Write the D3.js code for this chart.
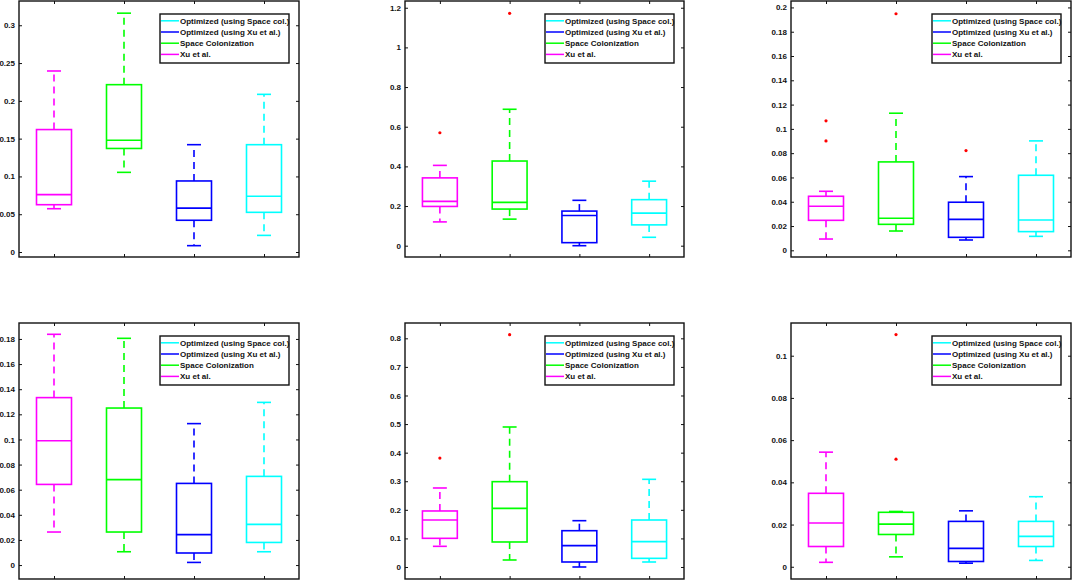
<!DOCTYPE html>
<html>
<head>
<meta charset="utf-8">
<script src="https://cdn.jsdelivr.net/npm/d3@7"></script>
<style>
  body { margin: 0; background: #fff; }
  svg { display: block; }
  .tick text { font-family: "Liberation Sans", Arial, sans-serif; font-weight: bold; font-size: 8px; fill: #111; }
</style>
</head>
<body>
<div id="chart"></div>
<script>
// methods, drawn left to right in every panel
const categories = ["Xu et al.", "Space Colonization", "Optimized (using Xu et al.)", "Optimized (using Space col.)"];
// legend lists them in reverse
const legendLabels = ["Optimized (using Space col.)", "Optimized (using Xu et al.)", "Space Colonization", "Xu et al."];

// each box: [lower whisker, q1, median, q3, upper whisker]
const boxesA = [[0.0573, 0.0626, 0.0759, 0.162, 0.2395], [0.1054, 0.137, 0.1478, 0.2214, 0.316], [0.0084, 0.042, 0.058, 0.094, 0.142], [0.022, 0.0525, 0.0737, 0.142, 0.2086]];
const outliersA = [[], [], [], []];
const ticksA = [0, 0.05, 0.1, 0.15, 0.2, 0.25, 0.3];
const limA = [-0.0066, 0.3321];

const boxesB = [[0.120, 0.198, 0.2237, 0.342, 0.405], [0.134, 0.1847, 0.2186, 0.427, 0.688], [0.0, 0.0153, 0.1525, 0.1746, 0.2288], [0.0424, 0.105, 0.1644, 0.2322, 0.3254]];
const outliersB = [[0.5695], [1.172], [], []];
const ticksB = [0, 0.2, 0.4, 0.6, 0.8, 1, 1.2];
const limB = [-0.057, 1.234];

const boxesC = [[0.0093, 0.0247, 0.0363, 0.0445, 0.0486], [0.0159, 0.0214, 0.0264, 0.0728, 0.1129], [0.0085, 0.0107, 0.0255, 0.0396, 0.0607], [0.0115, 0.0154, 0.025, 0.0618, 0.0901]];
const outliersC = [[0.1066, 0.0901], [0.1948], [0.0821], []];
const ticksC = [0, 0.02, 0.04, 0.06, 0.08, 0.1, 0.12, 0.14, 0.16, 0.18, 0.2];
const limC = [-0.0055, 0.2053];

const boxesD = [[0.0263, 0.0642, 0.099, 0.1333, 0.1837], [0.0106, 0.0263, 0.068, 0.125, 0.1805], [0.0021, 0.0096, 0.0242, 0.065, 0.1126], [0.0106, 0.018, 0.0324, 0.0706, 0.1295]];
const outliersD = [[], [], [], []];
const ticksD = [0, 0.02, 0.04, 0.06, 0.08, 0.1, 0.12, 0.14, 0.16, 0.18];
const limD = [-0.0111, 0.1927];

const boxesE = [[0.0723, 0.1003, 0.1644, 0.196, 0.2764], [0.0245, 0.0875, 0.2052, 0.2985, 0.4898], [0.0, 0.0175, 0.0746, 0.127, 0.162], [0.0175, 0.0303, 0.0886, 0.1644, 0.3067]];
const outliersE = [[0.381], [0.8128], [], []];
const ticksE = [0, 0.1, 0.2, 0.3, 0.4, 0.5, 0.6, 0.7, 0.8];
const limE = [-0.042, 0.8536];

const boxesF = [[0.0021, 0.0096, 0.0207, 0.0348, 0.0543], [0.0047, 0.0153, 0.0202, 0.0258, 0.0262], [0.0017, 0.0025, 0.0087, 0.0215, 0.0265], [0.003, 0.0096, 0.0144, 0.0215, 0.0332]];
const outliersF = [[], [0.11, 0.051], [], []];
const ticksF = [0, 0.02, 0.04, 0.06, 0.08, 0.1];
const limF = [-0.0058, 0.1155];

const width = 1074, height = 582;

const color = d3.scaleOrdinal()
  .domain(categories)
  .range(["#ff00ff", "#00ff00", "#0000ff", "#00ffff"]);

// panel frames in pixels: [left, right] columns and [top, bottom] rows
const cols = [[19, 299], [405, 684], [791, 1071]];
const rows = [[1, 257], [323, 579]];

const panels = [
  {boxes: boxesA, out: outliersA, ticks: ticksA, lim: limA, c: 0, r: 0},
  {boxes: boxesB, out: outliersB, ticks: ticksB, lim: limB, c: 1, r: 0},
  {boxes: boxesC, out: outliersC, ticks: ticksC, lim: limC, c: 2, r: 0},
  {boxes: boxesD, out: outliersD, ticks: ticksD, lim: limD, c: 0, r: 1},
  {boxes: boxesE, out: outliersE, ticks: ticksE, lim: limE, c: 1, r: 1},
  {boxes: boxesF, out: outliersF, ticks: ticksF, lim: limF, c: 2, r: 1}
];

const svg = d3.select("#chart")
  .append("svg")
    .attr("width", width)
    .attr("height", height);

const fmt = d => String(+d.toFixed(3));

panels.forEach(function(p) {
  const [x0, x1] = cols[p.c];
  const [y0, y1] = rows[p.r];

  const x = d3.scaleLinear().domain([0.5, 4.5]).range([x0, x1]);
  const y = d3.scaleLinear().domain(p.lim).range([y1, y0]);
  const step = x(2) - x(1);
  const boxW = step * 0.5, capW = step * 0.2;

  const g = svg.append("g");

  // axes, ticks pointing inwards on all four sides
  g.append("g")
    .attr("transform", `translate(${x0},0)`)
    .call(d3.axisLeft(y).tickValues(p.ticks).tickFormat(fmt).tickSize(-3).tickPadding(4));
  g.append("g")
    .attr("transform", `translate(${x1},0)`)
    .call(d3.axisRight(y).tickValues(p.ticks).tickFormat("").tickSize(-3));
  g.append("g")
    .attr("transform", `translate(0,${y1})`)
    .call(d3.axisBottom(x).tickValues([1, 2, 3, 4]).tickFormat("").tickSize(-3));
  g.append("g")
    .attr("transform", `translate(0,${y0})`)
    .call(d3.axisTop(x).tickValues([1, 2, 3, 4]).tickFormat("").tickSize(-3));
  g.selectAll(".domain").remove();
  g.selectAll(".tick line").attr("stroke", "#111").attr("stroke-width", 1);

  const b = g.selectAll(".box")
    .data(p.boxes)
    .enter().append("g")
      .attr("class", "box")
      .attr("stroke", (d, i) => color(categories[i]))
      .attr("stroke-width", 1.6)
      .attr("fill", "none");

  // whiskers
  b.append("line")
    .attr("x1", (d, i) => x(i + 1)).attr("x2", (d, i) => x(i + 1))
    .attr("y1", d => y(d[3])).attr("y2", d => y(d[4]))
    .attr("stroke-dasharray", "7,5");
  b.append("line")
    .attr("x1", (d, i) => x(i + 1)).attr("x2", (d, i) => x(i + 1))
    .attr("y1", d => y(d[1])).attr("y2", d => y(d[0]))
    .attr("stroke-dasharray", "7,5");
  // caps
  b.append("line")
    .attr("x1", (d, i) => x(i + 1) - capW / 2).attr("x2", (d, i) => x(i + 1) + capW / 2)
    .attr("y1", d => y(d[4])).attr("y2", d => y(d[4]));
  b.append("line")
    .attr("x1", (d, i) => x(i + 1) - capW / 2).attr("x2", (d, i) => x(i + 1) + capW / 2)
    .attr("y1", d => y(d[0])).attr("y2", d => y(d[0]));
  // box and median
  b.append("rect")
    .attr("x", (d, i) => x(i + 1) - boxW / 2)
    .attr("width", boxW)
    .attr("y", d => y(d[3]))
    .attr("height", d => y(d[1]) - y(d[3]));
  b.append("line")
    .attr("x1", (d, i) => x(i + 1) - boxW / 2).attr("x2", (d, i) => x(i + 1) + boxW / 2)
    .attr("y1", d => y(d[2])).attr("y2", d => y(d[2]));

  // outliers
  p.out.forEach(function(vals, i) {
    g.selectAll(null)
      .data(vals)
      .enter().append("circle")
        .attr("cx", x(i + 1))
        .attr("cy", d => y(d))
        .attr("r", 1.6)
        .attr("fill", "red");
  });

  // frame
  g.append("rect")
    .attr("x", x0).attr("y", y0)
    .attr("width", x1 - x0).attr("height", y1 - y0)
    .attr("fill", "none")
    .attr("stroke", "#111")
    .attr("stroke-width", 1.4);

  // legend
  const lw = 129, lh = 49;
  const lx = x1 - 10 - lw, ly = y0 + 13;
  const leg = g.append("g").attr("transform", `translate(${lx},${ly})`);
  leg.append("rect")
    .attr("width", lw).attr("height", lh)
    .attr("fill", "#fff").attr("stroke", "#111").attr("stroke-width", 1.4);
  const item = leg.selectAll(".item")
    .data(legendLabels)
    .enter().append("g")
      .attr("transform", (d, i) => `translate(0,${6.8 + i * 11.2})`);
  item.append("line")
    .attr("x1", 1).attr("x2", 19)
    .attr("stroke", d => color(d))
    .attr("stroke-width", 1.5);
  item.append("text")
    .attr("x", 20)
    .attr("dy", "0.35em")
    .style("font-family", "'Liberation Sans', Arial, sans-serif")
    .style("font-weight", "bold")
    .style("font-size", "8px")
    .attr("fill", "#111")
    .text(d => d);
});
</script>
</body>
</html>
